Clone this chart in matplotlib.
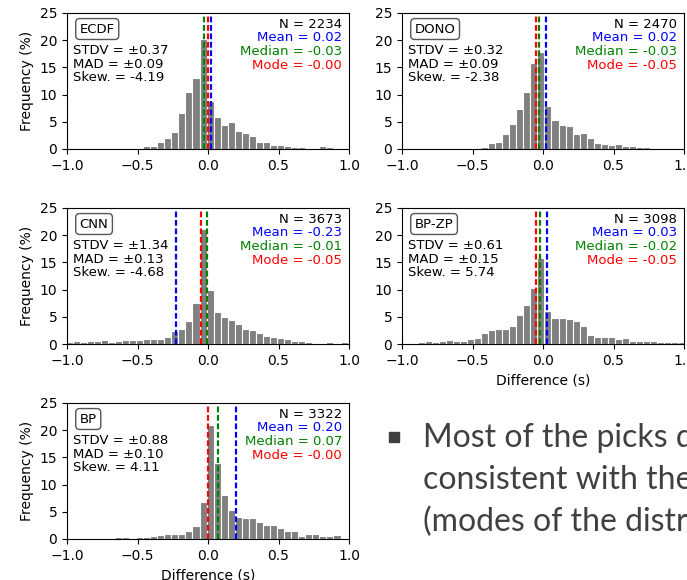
from matplotlib import pyplot as plt
from matplotlib.patches import Rectangle
import numpy as np

# histogram data (percent per 0.05 s bin)
names = ["ECDF", "DONO", "CNN", "BP-ZP", "BP"]
n_picks = [2234, 2470, 3673, 3098, 3322]
means = [0.02, 0.02, -0.23, 0.03, 0.20]
medians = [-0.03, -0.03, -0.01, -0.02, 0.07]
modes = [-0.00, -0.05, -0.05, -0.05, -0.00]
stdvs = [0.37, 0.32, 1.34, 0.61, 0.88]
mads = [0.09, 0.09, 0.13, 0.15, 0.10]
skews = [-4.19, -2.38, -4.68, 5.74, 4.11]

bin_width = 0.05
bin_starts = [-1.01, -1.04, -1.06, -1.04, -1.01]

ecdf_heights = [0, 0, 0, 0, 0, 0, 0.1, 0.15, 0.15, 0.1, 0.05, 0.6, 0.6, 1.2, 2.1,
                3.2, 6.6, 10.4, 13.1, 20.2, 8.8, 5.9, 4.5, 4.9, 3.3, 2.9, 2.3, 1.35,
                1.2, 0.8, 0.8, 0.6, 0.45, 0.35, 0.25, 0.1, 0.5, 0.3, 0.05, 0.2, 0.1]
dono_heights = [0, 0.05, 0.05, 0.05, 0.05, 0.05, 0.1, 0.15, 0.0, 0.05, 0.1, 0.2, 0.35,
                1.05, 1.35, 2.8, 4.6, 7.4, 10.5, 15.9, 17.8, 7.9, 5.4, 4.4, 4.3, 2.7,
                2.9, 1.95, 1.15, 1.0, 0.7, 0.85, 0.55, 0.5, 0.4, 0.3, 0.25, 0.25, 0.25,
                0.05, 0]
cnn_heights = [0.3, 0.3, 0.6, 0.45, 0.55, 0.55, 0.7, 0.45, 0.5, 0.65, 0.65, 0.65, 0.85,
               0.9, 1.0, 1.3, 2.3, 2.7, 4.2, 7.5, 21.2, 10.0, 5.9, 5.0, 4.4, 3.75, 2.7,
               2.6, 2.1, 1.55, 1.2, 1.05, 0.9, 0.55, 0.5, 0.3, 0.25, 0.25, 0.3, 0.25,
               0.3, 0.3]
bpzp_heights = [0.05, 0.1, 0.2, 0.3, 0.5, 0.3, 0.5, 0.75, 0.55, 0.55, 0.9, 1.15, 2.0,
                2.5, 2.8, 2.7, 3.4, 5.3, 7.2, 10.3, 15.9, 6.1, 4.7, 4.7, 4.6, 4.2, 3.3,
                1.6, 1.2, 1.2, 1.2, 1.0, 1.05, 0.6, 0.55, 0.5, 0.5, 0.45, 0.35, 0.35,
                0.3]
bp_heights = [0.0, 0.05, 0.05, 0.05, 0.1, 0.25, 0.25, 0.3, 0.45, 0.25, 0.35, 0.35, 0.6,
              0.75, 0.85, 0.9, 0.9, 1.5, 2.45, 6.75, 21.0, 13.95, 8.05, 5.35, 4.1, 3.9,
              3.9, 3.1, 2.65, 2.65, 2.0, 1.5, 1.5, 0.6, 0.9, 0.85, 0.55, 0.6, 0.65,
              0.25, 0.1]
all_heights = [ecdf_heights, dono_heights, cnn_heights, bpzp_heights, bp_heights]

xticks = [-1.0, -0.5, 0.0, 0.5, 1.0]
yticks = [0, 5, 10, 15, 20, 25]

note_lines = ["Most of the picks determined by the methods are",
              "consistent with the manual picks",
              "(modes of the distributions are close to zero)"]

W, H = 687, 580
fig = plt.figure(figsize=(W / 100, H / 100), dpi=100)

# axes boxes in pixels: left, top
boxes = [(67, 13), (402, 13), (67, 208), (402, 208), (67, 403)]
aw, ah = 282, 136

fs = 9.5
for i, name in enumerate(names):
    left, top = boxes[i]
    ax = fig.add_axes([left / W, 1 - (top + ah) / H, aw / W, ah / H])
    h = np.array(all_heights[i])
    edges = bin_starts[i] + bin_width * np.arange(len(h))
    ax.bar(edges, h, width=bin_width, align='edge', color='#808080',
           edgecolor='white', linewidth=0.8)
    dash = (2.6, 1.2)
    ax.axvline(means[i], color='blue', lw=1.6, dashes=dash)
    ax.axvline(medians[i], color='green', lw=1.6, dashes=dash)
    ax.axvline(modes[i], color='red', lw=1.6, dashes=dash)

    ax.set_xlim(-1, 1)
    ax.set_ylim(0, 25)
    ax.set_xticks(xticks)
    ax.set_yticks(yticks)
    ax.tick_params(labelsize=10)

    ax.text(0.045, 0.93, name, transform=ax.transAxes, fontsize=fs, va='top',
            bbox=dict(boxstyle='round,pad=0.3', fc='white', ec='#555555'))
    ax.text(0.02, 0.77,
            "STDV = \u00b1%.2f\nMAD = \u00b1%.2f\nSkew. = %.2f" % (stdvs[i], mads[i], skews[i]),
            transform=ax.transAxes, fontsize=fs, va='top', linespacing=1.05)
    right = [("N = %d" % n_picks[i], 'black'),
             ("Mean = %.2f" % means[i], 'blue'),
             ("Median = %.2f" % medians[i], 'green'),
             ("Mode = %.2f" % modes[i], 'red')]
    for j, (txt, c) in enumerate(right):
        ax.text(0.975, 0.965 - j * 0.101, txt, transform=ax.transAxes, fontsize=fs,
                color=c, ha='right', va='top')

    if i % 2 == 0:
        ax.set_ylabel("Frequency (%)", fontsize=10)
    if i >= 3:
        ax.set_xlabel("Difference (s)", fontsize=10)

# bullet text in the empty slot
fig.patches.append(Rectangle((389 / W, 1 - 442 / H), 10 / W, 10 / H,
                             transform=fig.transFigure, color='#404040'))
for j, line in enumerate(note_lines):
    fig.text(423 / W, 1 - (438 + 42 * j) / H, line, fontsize=23, color='#404040',
             family='Lato', va='center', ha='left')

fig.savefig("out.png", dpi=100)
